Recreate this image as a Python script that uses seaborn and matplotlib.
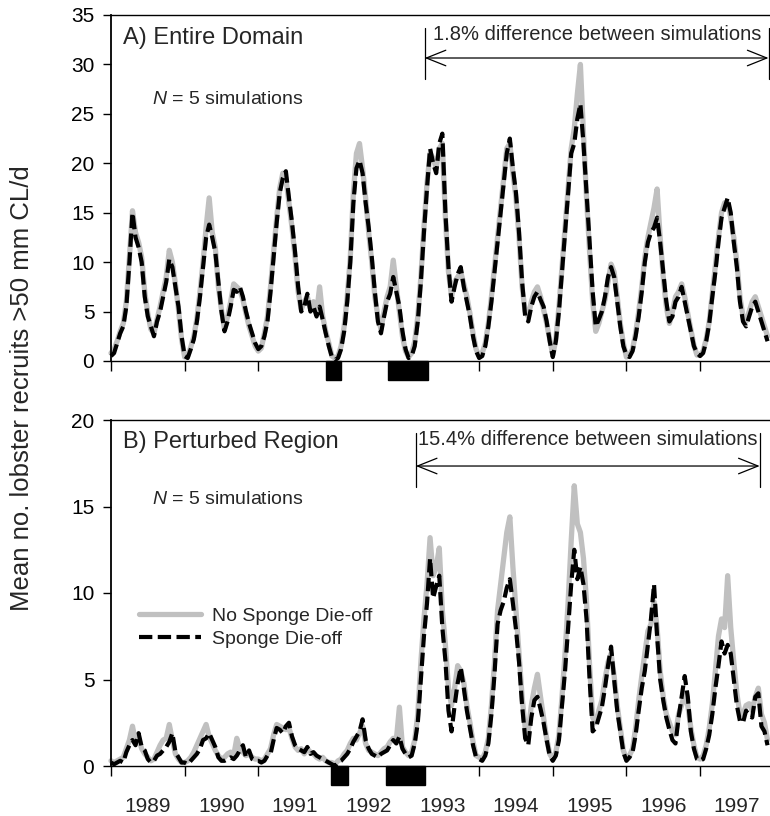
import numpy as np
import pandas as pd
import matplotlib
matplotlib.use("Agg")
import matplotlib.pyplot as plt
import seaborn as sns
from matplotlib.transforms import blended_transform_factory
from matplotlib.lines import Line2D

# ---------------- data (semi-monthly means) ----------------
start_year = 1989
steps_per_year = 24
year_labels = ["1989", "1990", "1991", "1992", "1993", "1994", "1995", "1996", "1997"]

# Panel A: entire domain
top_no_dieoff = [
    0.8, 1.2, 2, 3, 3.8, 6, 10.5, 15.2, 13, 12, 10.5, 7, 4.8, 3.2, 2.8, 4.2, 5.5, 7, 8.5, 11.2, 10, 7.8, 5.2, 2.2,
    0.4, 0.5, 1.4, 2.5, 4.3, 7, 10, 13.5, 16.5, 13, 11.5, 7.5, 5.2, 3.2, 4.5, 6, 7.8, 7.5, 7.2, 6.2, 4.8, 3.5, 2.5, 1.5,
    1, 1.3, 2.8, 4.5, 7.5, 11, 14.5, 17.5, 19, 18.5, 16, 13.5, 10.5, 7, 5.2, 6, 6.5, 5.3, 6, 4.8, 7.5, 4.5, 3, 1.8,
    0.5, 0.3, 0.5, 1.5, 3.5, 6.5, 10.5, 17, 21, 22, 19.5, 16.5, 13, 10, 6.5, 4.5, 3.2, 5, 6.5, 7.5, 10.2, 7.5, 5, 2.5,
    1, 0.4, 0.8, 2, 4.5, 8.5, 13.5, 18, 21, 20.5, 19.5, 21.5, 22, 14.5, 9, 6.5, 8, 8.5, 9, 7.8, 6.5, 4.8, 2.8, 1.2,
    0.5, 0.8, 1.8, 3.8, 6.5, 9.5, 12.5, 15.5, 18.5, 21.5, 22, 19, 16.5, 12.5, 7.5, 5, 4.5, 6, 7, 7.5, 6.5, 5.2, 3.8, 2.2,
    0.6, 2.2, 5.5, 9.5, 13.5, 17.5, 21.5, 23.5, 27, 30, 23, 16.5, 11, 6, 3, 3.8, 5, 6.2, 8, 9.8, 9, 6.5, 3.8, 1.8,
    0.4, 0.6, 1.2, 2.8, 5, 7.5, 10.5, 12.5, 14, 15.5, 17.4, 12.5, 8.5, 5.5, 3.8, 5, 6.5, 7, 7.8, 6.5, 4.8, 3.2, 1.6, 0.6,
    0.6, 1, 2.2, 4, 6.8, 9.5, 12.5, 15, 16, 16, 14.5, 12.5, 10, 6.5, 4.5, 4, 5, 6, 6.5, 5.5, 4.5, 3.5, 2.5,
]
top_dieoff = [
    0.5, 0.8, 1.8, 2.8, 3.5, 5.5, 10, 15, 12.5, 11.5, 10, 6.5, 4.5, 3.5, 2.5, 4, 5, 6.5, 8, 10.3, 9.5, 7.5, 5.5, 2.5,
    0.5, 0.3, 1.2, 2.2, 4, 6.5, 9.5, 12.5, 13.8, 12.5, 11, 8, 5, 3, 4, 5.5, 7.2, 7, 7.5, 6.5, 5, 3.8, 2.8, 1.8,
    1.2, 1.5, 2.5, 4, 7, 10.5, 14, 17, 18.5, 19.2, 16.5, 14, 11, 7.5, 5, 5.5, 6.8, 5, 5.5, 4.5, 5.5, 4.2, 2.8, 1.5,
    0.4, 0.1, 0.3, 1.2, 3, 6, 10, 16, 19.5, 20.3, 19, 16, 13.5, 10.5, 7, 4, 2.8, 4.5, 6, 6.8, 8.5, 7, 5.5, 3,
    1.2, 0.3, 0.5, 1.5, 4, 8, 13, 17.5, 21.5, 20, 19, 22, 23, 15, 9.5, 6, 7.5, 8.8, 9.5, 7.5, 6, 4.5, 2.5, 1,
    0.3, 0.5, 1.5, 3.5, 6, 9, 12, 15, 18, 21, 22.5, 19.5, 17, 13, 8, 4.5, 4, 5.5, 6.5, 7, 6.2, 5.5, 4, 2,
    0.4, 2, 5, 9, 13, 17, 21, 22, 24.5, 26, 22, 17, 12, 7, 3.5, 4.2, 5, 6.5, 8.5, 9.5, 8.5, 6, 3.5, 1.5,
    0.6, 0.4, 1, 2.5, 4.5, 7, 10, 12, 13, 13.5, 14.5, 12, 9, 6, 4, 4.5, 6, 6.5, 7.5, 6, 4.5, 3, 1.5, 0.8,
    0.5, 0.8, 2, 3.8, 6.5, 9, 12, 14.5, 15.5, 16.5, 15, 12, 9.5, 6, 4, 3.5, 4.5, 5.5, 6, 5, 4, 3, 2,
]

# Panel B: perturbed region
bot_no_dieoff = [
    0.3, 0.2, 0.3, 0.4, 0.5, 1.0, 1.5, 2.3, 1.4, 1.6, 1.0, 0.7, 0.5, 0.3, 0.4, 0.8, 1.2, 1.5, 1.6, 2.4, 1.5, 0.7, 0.4, 0.2,
    0.2, 0.3, 0.5, 0.8, 1.2, 1.6, 2.0, 2.4, 1.7, 1.3, 0.9, 0.6, 0.4, 0.5, 0.7, 0.8, 0.6, 1.6, 1.0, 0.8, 0.6, 0.7, 0.5, 0.4,
    0.4, 0.3, 0.4, 0.7, 1.0, 1.8, 2.4, 2.3, 2.2, 2.1, 2.2, 1.6, 1.1, 0.9, 1.0, 0.7, 1.0, 0.8, 0.7, 0.5, 0.4, 0.5, 0.3, 0.2,
    0.2, 0.1, 0.3, 0.4, 0.7, 0.9, 1.3, 1.6, 1.5, 1.9, 2.3, 1.3, 0.9, 0.8, 0.7, 0.6, 0.8, 1.0, 1.1, 1.4, 1.6, 1.5, 3.4, 1.1,
    0.8, 0.6, 0.8, 1.5, 3.0, 6.0, 8.5, 10.5, 13.2, 11.0, 11.5, 12.6, 9.0, 7.0, 4.5, 3.5, 4.5, 5.8, 5.5, 4.8, 3.5, 2.5, 1.4, 0.6,
    0.5, 0.4, 0.8, 1.6, 3.5, 6.0, 9.0, 10.5, 12.0, 13.5, 14.4, 11.5, 9.0, 6.5, 4.0, 2.2, 2.0, 3.5, 4.5, 5.3, 4.0, 2.8, 1.6, 0.7,
    0.4, 0.8, 1.8, 4.0, 6.5, 9.5, 13.0, 16.2, 14.0, 13.5, 12.0, 9.5, 5.8, 2.8, 2.5, 3.2, 3.8, 5.0, 6.0, 6.5, 5.2, 3.5, 2.2, 0.9,
    0.4, 0.6, 1.0, 2.2, 3.8, 5.2, 6.5, 7.8, 8.2, 9.5, 8.0, 5.5, 4.0, 3.0, 2.5, 2.0, 1.8, 3.0, 3.5, 4.2, 3.5, 2.2, 1.2, 0.5,
    0.4, 0.6, 1.2, 2.2, 3.6, 5.5, 7.5, 8.5, 8.0, 11.0, 8.0, 6.0, 4.2, 3.0, 3.0, 3.5, 3.6, 3.2, 4.0, 4.5, 3.0, 2.5, 1.5,
]
bot_dieoff = [
    0.2, 0.1, 0.2, 0.3, 0.2, 0.8, 1.2, 1.5, 1.2, 1.9, 1.1, 0.9, 0.4, 0.2, 0.3, 0.6, 0.7, 0.9, 1.1, 1.4, 1.9, 0.8, 0.5, 0.2,
    0.2, 0.1, 0.3, 0.5, 0.7, 1.0, 1.5, 1.6, 1.9, 1.5, 1.1, 0.5, 0.3, 0.3, 0.4, 0.5, 0.4, 0.6, 0.9, 1.2, 0.5, 0.9, 0.4, 0.3,
    0.3, 0.2, 0.3, 0.6, 0.7, 1.5, 2.2, 2.1, 1.9, 2.3, 2.5, 1.7, 1.2, 1.0, 0.9, 0.8, 1.1, 0.7, 0.8, 0.6, 0.5, 0.4, 0.3, 0.2,
    0.1, 0.0, 0.2, 0.3, 0.5, 0.7, 1.0, 1.4, 1.7, 2.0, 2.7, 1.5, 1.0, 0.7, 0.6, 0.5, 0.7, 0.8, 0.9, 1.2, 1.5, 1.3, 1.7, 1.0,
    0.7, 0.5, 0.6, 1.3, 2.5, 5.0, 7.5, 9.4, 12.0, 9.7, 10.4, 11.0, 8.0, 6.1, 3.2, 2.0, 3.5, 4.8, 5.7, 4.5, 3.2, 2.2, 1.2, 0.5,
    0.4, 0.3, 0.6, 1.3, 3.0, 5.3, 8.2, 9.0, 9.5, 10.3, 10.8, 9.4, 7.9, 6.0, 3.5, 1.6, 1.2, 2.8, 3.8, 4.0, 3.3, 2.5, 1.5, 0.6,
    0.3, 0.6, 1.5, 3.5, 5.5, 8.0, 10.5, 12.5, 10.8, 11.5, 10.5, 8.5, 5.0, 2.0, 2.2, 2.8, 3.4, 4.5, 5.8, 6.9, 5.0, 3.2, 2.0, 0.8,
    0.3, 0.5, 0.8, 1.8, 3.2, 4.5, 5.5, 7.0, 8.5, 10.5, 7.5, 5.0, 3.8, 2.8, 2.1, 1.5, 1.3, 2.8, 4.0, 5.2, 4.0, 2.0, 1.0, 0.4,
    0.3, 0.4, 1.0, 1.8, 3.0, 4.5, 5.8, 7.2, 6.5, 7.0, 6.5, 5.0, 3.5, 2.6, 2.5, 3.2, 2.9, 2.8, 4.0, 4.2, 2.3, 2.0, 1.2,
]

# sponge die-off periods (black bars under the axes), decimal years
top_events = [(1991.92, 1992.13), (1992.76, 1993.30)]
bot_events = [(1991.99, 1992.22), (1992.74, 1993.27)]

top_diff_text = "1.8% difference between simulations"
bot_diff_text = "15.4% difference between simulations"
top_span = (1993.26, 1997.93)
bot_span = (1993.14, 1997.81)

series_names = ["No Sponge Die-off", "Sponge Die-off"]
ylabel = "Mean no. lobster recruits >50 mm CL/d"

# ---------------- style ----------------
sns.set_style("ticks")
plt.rcParams["font.family"] = ["Liberation Sans", "DejaVu Sans"]
plt.rcParams["mathtext.fontset"] = "custom"
plt.rcParams["mathtext.it"] = "Liberation Sans:italic"
plt.rcParams["mathtext.rm"] = "Liberation Sans"

GREY = "#c0c0c0"
DASH = (0, (3.2, 1.3))

n = len(top_dieoff)
t = start_year + np.arange(n) / steps_per_year

def long_df(a, b):
    return pd.DataFrame({
        "t": np.concatenate([t, t]),
        "value": np.concatenate([a, b]),
        "series": [series_names[0]] * n + [series_names[1]] * n,
    })

df_top = long_df(top_no_dieoff, top_dieoff)
df_bot = long_df(bot_no_dieoff, bot_dieoff)

fig = plt.figure(figsize=(7.7, 8.16), dpi=100)
ax1 = fig.add_axes([111 / 770, 1 - 361 / 816, 659 / 770, 346 / 816])
ax2 = fig.add_axes([111 / 770, 1 - 766 / 816, 659 / 770, 346 / 816])

def draw(ax, df, ymax, events, span, text, xtxt, ytxt, yarrow, ybar, title, ytitle, yN):
    sub0 = df[df["series"] == series_names[0]]
    sub1 = df[df["series"] == series_names[1]]
    sns.lineplot(data=sub0, x="t", y="value", ax=ax, color=GREY, linewidth=3.8,
                 estimator=None, sort=False, legend=False, clip_on=False)
    sns.lineplot(data=sub1, x="t", y="value", ax=ax, color="black", linewidth=3.0,
                 linestyle=DASH, estimator=None, sort=False, legend=False, clip_on=False)
    ax.set_xlim(1989.0, 1997.95)
    ax.set_ylim(0, ymax)
    ax.set_yticks(np.arange(0, ymax + 1, 5))
    ax.set_xticks(np.arange(1989, 1998))
    ax.set_xticks(np.arange(1989, 1998) + 0.5, minor=True)
    ax.set_xticklabels([])
    ax.set_xticklabels(year_labels, minor=True)
    ax.set_xlabel("")
    ax.set_ylabel("")
    ax.spines["right"].set_visible(False)
    ax.spines["left"].set_linewidth(1.3)
    ax.spines["bottom"].set_linewidth(1.0)
    ax.spines["top"].set_linewidth(1.0)
    for s in ax.spines.values():
        s.set_color("black")
    ax.tick_params(axis="y", direction="out", length=6, width=1, labelsize=15, pad=6, colors="black")
    ax.tick_params(axis="x", which="major", direction="out", length=7, width=1, colors="black")
    ax.tick_params(axis="x", which="minor", length=0, labelsize=15, pad=22)
    trans = blended_transform_factory(ax.transData, ax.transAxes)
    for (a, b) in events:
        ax.add_patch(plt.Rectangle((a, -0.055), b - a, 0.055, transform=trans,
                                   color="black", clip_on=False, zorder=5))
    # difference arrow
    ax.annotate("", xy=(span[0], yarrow), xytext=(span[1], yarrow),
                arrowprops=dict(arrowstyle="<->,head_length=0.4,head_width=0.16",
                                mutation_scale=35, lw=0.9, color="black",
                                shrinkA=0, shrinkB=0))
    for xv in span:
        ax.plot([xv, xv], [ybar[0], ybar[1]], color="black", lw=0.9, clip_on=False)
    ax.text(xtxt, ytxt, text, ha="center", va="center", fontsize=14.5)
    ax.text(1989.16, ytitle, title, ha="left", va="center", fontsize=17)
    ax.text(1989.56, yN, "$N$ = 5 simulations", ha="left", va="center", fontsize=14)

draw(ax1, df_top, 35, top_events, top_span, top_diff_text, 1995.60, 33.0, 30.65, (28.5, 33.7),
     "A) Entire Domain", 32.7, 26.5)
draw(ax2, df_bot, 20, bot_events, bot_span, bot_diff_text, 1995.47, 18.9, 17.34, (16.13, 19.25),
     "B) Perturbed Region", 18.7, 15.4)
ax1.tick_params(axis="x", which="both", labelbottom=False)

handles = [Line2D([], [], color=GREY, lw=3.8),
           Line2D([], [], color="black", lw=3.0, linestyle=DASH)]
ax2.legend(handles, series_names, loc="center left", bbox_to_anchor=(0.042, 0.40),
           frameon=False, fontsize=14, handlelength=3.2, handletextpad=0.55,
           labelspacing=0.25, borderpad=0, borderaxespad=0)

fig.text(22 / 770, 1 - 388 / 816, ylabel, rotation=90, ha="center", va="center", fontsize=18.5)

fig.savefig("out.png", dpi=100)
